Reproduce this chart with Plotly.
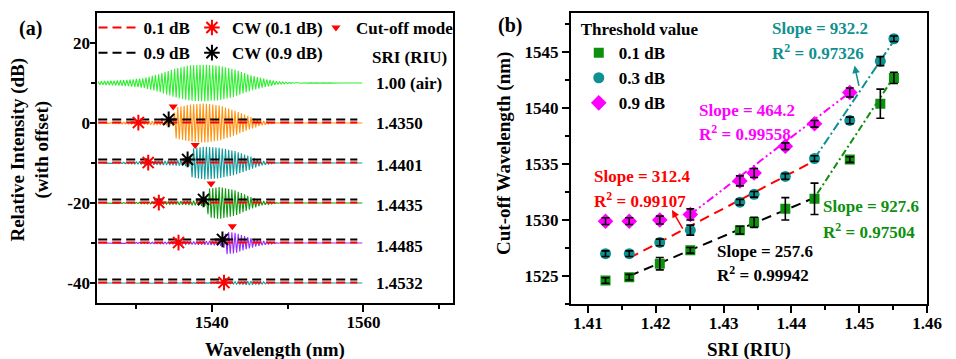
import numpy as np
import plotly.graph_objects as go

FONT = "Liberation Serif, Times New Roman, serif"

# ---------------- Panel (a) data ----------------
sri_labels = ["1.00 (air)", "1.4350", "1.4401", "1.4435", "1.4485", "1.4532"]
offsets = [10, 0, -10, -20, -30, -40]
colors_a = ["#2ef02e", "#ff9412", "#13999a", "#139a13", "#9330ff", "#1a9e9e"]
fringe_period = 0.42  # nm
lam_start, lam_end = 1525.0, 1560.0

# envelope knots (wavelength nm, half-amplitude dB)
env_lam = [
    [1525, 1527, 1529, 1531, 1533, 1535, 1537, 1539, 1541, 1543, 1545, 1547, 1549, 1551, 1560],
    [1525, 1528, 1531, 1534, 1534.9, 1535.2, 1537, 1539, 1541, 1543, 1545, 1546.5, 1548, 1549, 1560],
    [1525, 1529, 1532, 1535, 1537.0, 1537.4, 1539, 1541, 1543, 1545, 1546.5, 1548, 1549, 1560],
    [1525, 1530, 1534, 1537, 1539.2, 1539.6, 1541, 1543, 1545, 1546.5, 1548, 1549, 1560],
    [1525, 1533, 1537, 1540, 1541.5, 1541.9, 1543, 1544.5, 1546, 1547.5, 1549, 1560],
    [1525, 1541, 1543, 1545, 1546.5, 1548, 1549, 1560],
]
env_amp = [
    [0.4, 0.6, 0.8, 1.2, 2.2, 3.5, 4.4, 4.6, 4.3, 3.4, 2.0, 1.0, 0.3, 0.05, 0.0],
    [0.0, 0.2, 0.4, 0.6, 0.8, 3.8, 4.6, 4.9, 4.4, 3.1, 1.6, 0.6, 0.1, 0.0, 0.0],
    [0.0, 0.2, 0.4, 0.6, 0.8, 3.6, 4.1, 3.8, 3.0, 1.7, 0.6, 0.15, 0.0, 0.0],
    [0.0, 0.15, 0.3, 0.5, 0.8, 3.6, 4.0, 3.2, 1.6, 0.6, 0.2, 0.0, 0.0],
    [0.0, 0.2, 0.35, 0.5, 0.8, 2.8, 2.6, 1.6, 0.8, 0.3, 0.0, 0.0],
    [0.0, 0.1, 0.3, 0.5, 0.3, 0.1, 0.0, 0.0],
]

thr_01 = 0.1  # dB
thr_09 = 0.9  # dB
dash_end = 1559.2

cw01_lam = [1530.3, 1531.6, 1533.0, 1535.6, 1541.6]
cw09_lam = [1534.3, 1536.8, 1538.9, 1541.4]
cutoff_lam = [1534.9, 1537.8, 1539.9, 1542.7]
cutoff_mark_y = [4.1, -5.5, -15.1, -25.8]

# ---------------- Panel (b) data ----------------
sri_b = [1.4126, 1.4161, 1.4206, 1.4251, 1.4324, 1.4345, 1.4391, 1.4434, 1.4486, 1.4531, 1.4551]
cw_01 = [1524.6, 1524.9, 1526.1, 1527.3, 1529.1, 1529.8, 1531.0, 1531.9, 1535.4, 1540.4, 1542.7]
err_01 = [0.25, 0.25, 0.55, 0.25, 0.35, 0.45, 1.0, 1.4, 0.25, 1.3, 0.5]
cw_03 = [1527.0, 1527.0, 1528.0, 1529.1, 1531.6, 1532.3, 1533.9, 1535.5, 1538.9, 1544.2, 1546.2]
err_03 = [0.25, 0.25, 0.3, 0.45, 0.25, 0.25, 0.25, 0.25, 0.3, 0.4, 0.25]
cw_09 = [1529.9, 1529.9, 1530.0, 1530.5, 1533.5, 1534.2, 1536.6, 1538.6, 1541.4]
err_09 = [0.3, 0.3, 0.35, 0.5, 0.45, 0.4, 0.3, 0.3, 0.4]

fit_black_x, fit_black_y = [1.4161, 1.4434], [1525.0, 1532.0]
fit_green_x, fit_green_y = [1.4434, 1.4551], [1532.0, 1542.8]
fit_red_x, fit_red_y = [1.4161, 1.4434], [1526.6, 1535.3]
fit_teal_x, fit_teal_y = [1.4434, 1.4554], [1535.5, 1546.3]
fit_mag_x, fit_mag_y = [1.4251, 1.4486], [1530.5, 1541.4]

GREEN_B = "#0e8f0e"
TEAL_B = "#0f9090"
MAG_B = "#ff00ff"

fig = go.Figure()

# spectra
for i in range(len(offsets)):
    lam = np.arange(lam_start, lam_end + 1e-9, fringe_period / 2)
    env = np.interp(lam, env_lam[i], env_amp[i])
    sign = np.where(np.arange(len(lam)) % 2 == 0, 1.0, -1.0)
    fig.add_trace(go.Scatter(x=lam, y=offsets[i] + env * sign, mode="lines",
                             line=dict(color=colors_a[i], width=1.1),
                             showlegend=False, hoverinfo="skip", xaxis="x", yaxis="y"))

# threshold lines
for j, o in enumerate(offsets[1:]):
    fig.add_trace(go.Scatter(x=[lam_start, dash_end], y=[o + thr_09, o + thr_09], mode="lines",
                             line=dict(color="black", width=2, dash="9px,5px"),
                             name="0.9 dB", legend="legend", legendrank=2,
                             showlegend=(j == 0), xaxis="x", yaxis="y"))
    fig.add_trace(go.Scatter(x=[lam_start, dash_end], y=[o + thr_01, o + thr_01], mode="lines",
                             line=dict(color="red", width=2, dash="9px,5px"),
                             name="0.1 dB", legend="legend", legendrank=1,
                             showlegend=(j == 0), xaxis="x", yaxis="y"))

fig.add_trace(go.Scatter(x=cw01_lam, y=[o + thr_01 for o in offsets[1:]], mode="markers",
                         marker=dict(symbol="asterisk-open", size=13, color="red",
                                     line=dict(color="red", width=2)),
                         name="CW (0.1 dB)", legend="legend2", legendrank=1, xaxis="x", yaxis="y"))
fig.add_trace(go.Scatter(x=cw09_lam, y=[o + thr_09 for o in offsets[1:5]], mode="markers",
                         marker=dict(symbol="asterisk-open", size=13, color="black",
                                     line=dict(color="black", width=2)),
                         name="CW (0.9 dB)", legend="legend2", legendrank=2, xaxis="x", yaxis="y"))
fig.add_trace(go.Scatter(x=cutoff_lam, y=cutoff_mark_y, mode="markers",
                         marker=dict(symbol="triangle-down", size=8, color="red"),
                         name="Cut-off mode", legend="legend3", xaxis="x", yaxis="y"))

# ---------------- Panel (b) ----------------
def add_fit(x, y, color, dash):
    fig.add_trace(go.Scatter(x=x, y=y, mode="lines", line=dict(color=color, width=2, dash=dash),
                             showlegend=False, hoverinfo="skip", xaxis="x2", yaxis="y2"))

add_fit(fit_black_x, fit_black_y, "black", "10px,6px")
add_fit(fit_green_x, fit_green_y, GREEN_B, "2px,3px,7px,3px")
add_fit(fit_red_x, fit_red_y, "red", "10px,6px")
add_fit(fit_teal_x, fit_teal_y, TEAL_B, "9px,3px,2px,3px")
add_fit(fit_mag_x, fit_mag_y, MAG_B, "8px,3px,2px,3px,2px,3px")

series_b = [
    ("0.1 dB", sri_b, cw_01, err_01, "square", 10, GREEN_B),
    ("0.3 dB", sri_b, cw_03, err_03, "circle", 11, TEAL_B),
    ("0.9 dB", sri_b[:len(cw_09)], cw_09, err_09, "diamond", 12, MAG_B),
]
for k, (nm, xs, ys, es, sym, sz, col) in enumerate(series_b):
    fig.add_trace(go.Scatter(x=xs, y=ys, mode="markers",
                             marker=dict(symbol=sym, size=sz, color=col),
                             name=nm, legend="legend4", legendrank=k + 1, xaxis="x2", yaxis="y2"))
for k, (nm, xs, ys, es, sym, sz, col) in enumerate(series_b):
    fig.add_trace(go.Scatter(x=xs, y=ys, mode="markers",
                             marker=dict(size=1, opacity=0, color="black"),
                             error_y=dict(type="data", array=es, color="black", thickness=1.6, width=4),
                             showlegend=False, hoverinfo="skip", xaxis="x2", yaxis="y2"))

axis_common = dict(showline=True, linecolor="black", linewidth=2, mirror=True,
                   ticks="outside", tickcolor="black", tickwidth=2,
                   showgrid=False, zeroline=False,
                   tickfont=dict(family=FONT, size=17, color="black", weight="bold"))

tickvals_a = [-40, -20, 0, 20]
ticktext_a = ["-40", "-20", "0", "20"]

fig.update_layout(
    width=956, height=359, margin=dict(l=0, r=0, t=0, b=0),
    paper_bgcolor="white", plot_bgcolor="white",
    font=dict(family=FONT, size=17, color="black", weight="bold"),
    xaxis=dict(domain=[99 / 956, 460 / 956], range=[1524.9, 1571.8], anchor="y",
               tick0=0, dtick=20, ticklen=7, ticklabelstandoff=-4,
               minor=dict(dtick=10, ticklen=4, tickwidth=2, tickcolor="black", ticks="outside"),
               **axis_common),
    yaxis=dict(domain=[1 - 303 / 359, 1 - 13 / 359], range=[-45, 27.5], anchor="x",
               tickmode="array", tickvals=tickvals_a, ticktext=ticktext_a, ticklen=5,
               ticklabelstandoff=-3,
               minor=dict(tickvals=[-30, -10, 10], ticklen=4, tickwidth=2, tickcolor="black", ticks="outside"),
               **axis_common),
    xaxis2=dict(domain=[580 / 956, 942 / 956], range=[1.4075, 1.46001], anchor="y2",
                tick0=1.41, dtick=0.01, tickformat=".2f", ticklen=7, ticklabelstandoff=-4,
                ticklabeloverflow="allow",
                minor=dict(dtick=0.005, ticklen=4, tickwidth=2, tickcolor="black", ticks="outside"),
                **axis_common),
    yaxis2=dict(domain=[1 - 304 / 359, 1 - 13 / 359], range=[1522.5, 1548.5], anchor="x2",
                tick0=1525, dtick=5, ticklen=7,
                minor=dict(dtick=2.5, ticklen=4, tickwidth=2, tickcolor="black", ticks="outside"),
                **axis_common),
    legend=dict(x=95 / 956, y=1 - 10 / 359, xanchor="left", yanchor="top", bgcolor="rgba(0,0,0,0)",
                font=dict(size=17), tracegroupgap=0, itemwidth=40),
    legend2=dict(x=195 / 956, y=1 - 10 / 359, xanchor="left", yanchor="top", bgcolor="rgba(0,0,0,0)",
                 font=dict(size=17), tracegroupgap=0, itemwidth=30),
    legend3=dict(x=321 / 956, y=1 - 10 / 359, xanchor="left", yanchor="top", bgcolor="rgba(0,0,0,0)",
                 font=dict(size=17), tracegroupgap=0, itemwidth=30),
    legend4=dict(x=588 / 956, y=1 - 13 / 359, xanchor="left", yanchor="top", bgcolor="rgba(0,0,0,0)",
                 font=dict(size=17), tracegroupgap=0, itemwidth=30,
                 title=dict(text="Threshold value", font=dict(size=17))),
)

ann = []
# right-hand SRI labels in panel (a)
ann.append(dict(x=1560.9, y=16.3, xref="x", yref="y", text="SRI (RIU)", showarrow=False,
                xanchor="left", yanchor="middle", font=dict(size=17)))
label_y = [10, 0, -10.5, -20.5, -30.8, -40]
for t, yv in zip(sri_labels, label_y):
    ann.append(dict(x=1561.4, y=yv, xref="x", yref="y", text=t, showarrow=False,
                    xanchor="left", yanchor="middle", font=dict(size=17)))

# axis titles and panel letters
ann += [
    dict(x=30 / 956, y=1 - 150 / 359, xref="paper", yref="paper", textangle=-90,
         text="Relative Intensity (dB)<br>(with offset)", showarrow=False, font=dict(size=19),
         xanchor="center", yanchor="middle"),
    dict(x=279 / 956, y=1 - 350 / 359, xref="paper", yref="paper", text="Wavelength (nm)",
         showarrow=False, font=dict(size=19), xanchor="center", yanchor="middle"),
    dict(x=512 / 956, y=1 - 153 / 359, xref="paper", yref="paper", textangle=-90,
         text="Cut-off Wavelength (nm)", showarrow=False, font=dict(size=19),
         xanchor="center", yanchor="middle"),
    dict(x=761 / 956, y=1 - 350 / 359, xref="paper", yref="paper", text="SRI (RIU)",
         showarrow=False, font=dict(size=19), xanchor="center", yanchor="middle"),
    dict(x=31 / 956, y=1 - 28 / 359, xref="paper", yref="paper", text="(a)",
         showarrow=False, font=dict(size=20), xanchor="center", yanchor="middle"),
    dict(x=518 / 956, y=1 - 25 / 359, xref="paper", yref="paper", text="(b)",
         showarrow=False, font=dict(size=20), xanchor="center", yanchor="middle"),
]

# fit annotations panel (b)
fit_texts = [
    ("Slope = 932.2", "R<sup>2</sup> = 0.97326", 1.4368, 1547.1, 1545.0, TEAL_B),
    ("Slope = 464.2", "R<sup>2</sup> = 0.99558", 1.4261, 1539.8, 1537.8, MAG_B),
    ("Slope = 312.4", "R<sup>2</sup> = 0.99107", 1.4106, 1533.9, 1531.8, "red"),
    ("Slope = 927.6", "R<sup>2</sup> = 0.97504", 1.4443, 1531.2, 1529.0, GREEN_B),
    ("Slope = 257.6", "R<sup>2</sup> = 0.99942", 1.4288, 1527.2, 1525.2, "black"),
]
for s, r, xl, y1, y2, col in fit_texts:
    ann.append(dict(x=xl, y=y1, xref="x2", yref="y2", text=s, showarrow=False,
                    xanchor="left", yanchor="middle", font=dict(size=17, color=col)))
    ann.append(dict(x=xl, y=y2, xref="x2", yref="y2", text=r, showarrow=False,
                    xanchor="left", yanchor="middle", font=dict(size=17, color=col)))

ann.append(dict(x=1.4224, y=1530.9, ax=1.4241, ay=1529.1, xref="x2", yref="y2",
                axref="x2", ayref="y2", text="", showarrow=True, arrowhead=2,
                arrowsize=1, arrowwidth=1.5, arrowcolor="red"))
ann.append(dict(x=1.4493, y=1543.8, ax=1.4500, ay=1541.85, xref="x2", yref="y2",
                axref="x2", ayref="y2", text="", showarrow=True, arrowhead=2,
                arrowsize=1, arrowwidth=1.5, arrowcolor=TEAL_B))

fig.update_layout(annotations=ann)
fig.write_html("out.html")
